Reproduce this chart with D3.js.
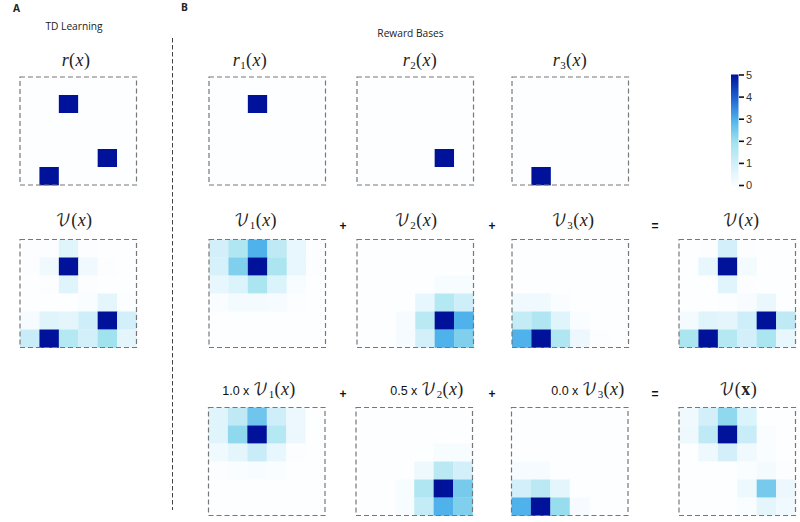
<!DOCTYPE html>
<html>
<head>
<meta charset="utf-8">
<script src="https://cdn.jsdelivr.net/npm/d3@7"></script>
<style>
  body { margin: 0; background: #fff; }
  svg { display: block; }
  .math { font-family: "Liberation Serif", serif; font-size: 18px; fill: #222; letter-spacing: 0.4px; }
  .head { font-family: "Open Sans", sans-serif; font-size: 10.2px; fill: #222; }
  .plain { font-family: "Liberation Sans", sans-serif; font-size: 12.5px; fill: #111; letter-spacing: 0; }
</style>
</head>
<body>
<div id="content"></div>
<script>
// value grids, 6 x 6 (rows top to bottom)
var rAll = [[0,0,0,0,0,0],[0,0,5,0,0,0],[0,0,0,0,0,0],[0,0,0,0,0,0],[0,0,0,0,5,0],[0,5,0,0,0,0]];
var r1 = [[0,0,0,0,0,0],[0,0,5,0,0,0],[0,0,0,0,0,0],[0,0,0,0,0,0],[0,0,0,0,0,0],[0,0,0,0,0,0]];
var r2 = [[0,0,0,0,0,0],[0,0,0,0,0,0],[0,0,0,0,0,0],[0,0,0,0,0,0],[0,0,0,0,5,0],[0,0,0,0,0,0]];
var r3 = [[0,0,0,0,0,0],[0,0,0,0,0,0],[0,0,0,0,0,0],[0,0,0,0,0,0],[0,0,0,0,0,0],[0,5,0,0,0,0]];
var vAll = [
  [0.05,0.05,0.7,0.05,0,0],
  [0.05,0.3,5,0.3,0.05,0],
  [0,0.05,0.7,0.05,0,0],
  [0,0,0,0.1,0.6,0.05],
  [0.2,0.7,0.6,1.1,5,1],
  [1.2,5,1.6,1,2,0.6]];
var v1 = [
  [1,1.7,3,1.4,0.5,0.05],
  [0.9,2.4,5,1.8,0.5,0.05],
  [0.5,0.8,1.8,0.8,0.15,0.03],
  [0.1,0.25,0.25,0.2,0.05,0],
  [0.03,0.03,0.03,0.03,0,0],
  [0.02,0.02,0.02,0.02,0,0]];
var v2 = [
  [0,0,0,0,0,0],
  [0,0,0,0,0,0],
  [0,0,0,0.03,0.15,0.15],
  [0,0,0.03,0.5,1.6,1.1],
  [0,0,0.2,1.5,5,3],
  [0,0,0.2,1,3,2.4]];
var v3 = [
  [0,0,0,0,0,0],
  [0,0,0,0,0,0],
  [0,0,0,0,0,0],
  [0.3,0.3,0.1,0.02,0,0],
  [1.3,1.7,0.7,0.1,0,0],
  [3,5,1.7,0.4,0.05,0]];
var vSum = [
  [0.03,0.05,1,0.05,0,0],
  [0.03,0.5,5,0.25,0.03,0],
  [0,0.03,0.7,0.05,0,0],
  [0,0,0.05,0.12,0.45,0.03],
  [0.25,0.7,0.6,1.1,5,1.4],
  [1.8,5,1.6,1,1.8,0.5]];
var w1 = [
  [0.7,1.4,2.6,1.1,0.4,0.03],
  [0.7,2.2,5,1.6,0.4,0.03],
  [0.3,0.6,1.2,0.5,0.05,0],
  [0.05,0.1,0.15,0.1,0.02,0],
  [0,0,0,0,0,0],
  [0,0,0,0,0,0]];
var w2 = [
  [0,0,0,0,0,0],
  [0,0,0,0,0,0],
  [0,0,0,0.02,0.15,0.15],
  [0,0,0,0.35,1.5,1],
  [0,0,0.15,1.7,5,2.5],
  [0,0,0.15,1.3,3,2.4]];
var w3 = [
  [0,0,0,0,0,0],
  [0,0,0,0,0,0],
  [0,0,0,0,0,0],
  [0.2,0.2,0.02,0,0,0],
  [1,1.5,0.6,0.03,0,0],
  [3,5,2.1,0.2,0.03,0]];
var wSum = [
  [0.3,1,2.2,0.8,0.02,0],
  [0.35,1.4,5,1.2,0.1,0],
  [0.03,0.35,1,0.3,0.08,0],
  [0,0.02,0.03,0.1,0.25,0.05],
  [0,0,0,0.35,2.5,0.4],
  [0,0,0,0.1,0.6,0.3]];
var barTicks = [0,1,2,3,4,5];
var barStops = ["#fdfeff","#d3f0fa","#a0e2ee","#4fb2ea","#1c5ed2","#00129a"];

var width = 800, height = 522;
var svg = d3.select("#content").append("svg")
  .attr("width", width).attr("height", height);

var color = d3.scaleLinear().domain(barTicks).range(barStops).clamp(true);
var idx = d3.range(6);

// one heat panel with dashed frame and its title (titles are not centred on the panels)
function panel(x0, y0, grid, titleX, titleY, prefix, name, sub, bold) {
  var xS = d3.scaleBand().domain(idx).range([x0, x0 + 116.5]);
  var yS = d3.scaleBand().domain(idx).range([y0, y0 + 108]);
  var g = svg.append("g");
  grid.forEach(function(row, i) {
    g.selectAll(null).data(row).enter().append("rect")
      .attr("x", function(d, j) { return xS(j); })
      .attr("y", yS(i))
      .attr("width", xS.bandwidth() + 0.3)
      .attr("height", yS.bandwidth() + 0.3)
      .attr("fill", function(d) { return color(d); });
  });
  g.append("rect")
    .attr("x", x0).attr("y", y0).attr("width", 116.5).attr("height", 108)
    .attr("fill", "none").attr("stroke", "#777").attr("stroke-width", 1.2)
    .attr("stroke-dasharray", "5,3");

  var t = svg.append("text").attr("text-anchor", "middle")
    .attr("x", titleX).attr("y", titleY).attr("class", "math");
  if (prefix) t.append("tspan").attr("class", "plain").text(prefix + " ");
  if (name == "r") t.append("tspan").attr("font-style", "italic").text("r");
  else t.append("tspan").attr("font-family", "DejaVu Math TeX Gyre, Noto Sans Math, DejaVu Sans").attr("font-size", 16).text("\uD835\uDCB1");
  if (sub) t.append("tspan").attr("font-size", 11).attr("dy", 3).text(sub);
  t.append("tspan").attr("dy", sub ? -3 : 0).text("(");
  t.append("tspan").attr("font-style", bold ? "normal" : "italic").attr("font-weight", bold ? "bold" : "normal").text("x");
  t.append("tspan").text(")");
}

panel(20, 77, rAll, 76, 66, "", "r", "");
panel(20, 239.5, vAll, 74, 226, "", "V", "");
panel(209, 77, r1, 250, 66, "", "r", "1");
panel(357, 77, r2, 420, 66, "", "r", "2");
panel(512, 77, r3, 570, 66, "", "r", "3");
panel(209, 239.5, v1, 255.5, 226, "", "V", "1");
panel(357, 239.5, v2, 416, 226, "", "V", "2");
panel(512, 239.5, v3, 573, 226, "", "V", "3");
panel(679, 239.5, vSum, 741, 226, "", "V", "");
panel(208.5, 407.5, w1, 259, 395, "1.0 x", "V", "1");
panel(356, 407.5, w2, 427, 395, "0.5 x", "V", "2");
panel(511.5, 407.5, w3, 588, 395, "0.0 x", "V", "3");
panel(679, 407.5, wSum, 738, 395, "", "V", "", true);

// headings
svg.append("text").attr("class", "head").attr("x", 13).attr("y", 12).attr("font-weight", "bold").attr("font-size", 9.5).text("A");
svg.append("text").attr("class", "head").attr("x", 181).attr("y", 11).attr("font-weight", "bold").attr("font-size", 9.5).text("B");
svg.append("text").attr("class", "head").attr("x", 74).attr("y", 30).attr("text-anchor", "middle").text("TD Learning");
svg.append("text").attr("class", "head").attr("x", 410.5).attr("y", 37).attr("text-anchor", "middle").text("Reward Bases");

// divider
svg.append("line").attr("x1", 172.5).attr("x2", 172.5).attr("y1", 38).attr("y2", 510)
  .attr("stroke", "#444").attr("stroke-width", 1).attr("stroke-dasharray", "4.5,2.5");

// operators between panels
var opX = [343, 492, 655];
var opSym = ["+", "+", "="];
[230, 398].forEach(function(y) {
  svg.selectAll(null).data(opSym).enter().append("text")
    .attr("x", function(d, i) { return opX[i]; })
    .attr("y", y)
    .attr("text-anchor", "middle")
    .attr("font-family", "Liberation Sans")
    .attr("font-weight", "bold")
    .attr("font-size", 12)
    .attr("fill", "#111")
    .text(function(d) { return d; });
});

// colour bar
var barY = d3.scaleLinear().domain([0, 5]).range([185, 74.5]);
var grad = svg.append("defs").append("linearGradient").attr("id", "bar")
  .attr("x1", 0).attr("x2", 0).attr("y1", 1).attr("y2", 0);
barTicks.forEach(function(v, i) {
  grad.append("stop").attr("offset", (v / 5 * 100) + "%").attr("stop-color", barStops[i]);
});
svg.append("rect").attr("x", 731).attr("y", barY(5)).attr("width", 7.5)
  .attr("height", barY(0) - barY(5) + 2).attr("fill", "url(#bar)");
var barAxis = svg.append("g").attr("transform", "translate(739,0)")
  .call(d3.axisRight(barY).tickValues(barTicks).tickFormat(d3.format("d")).tickSize(5).tickPadding(2));
barAxis.select(".domain").remove();
barAxis.selectAll(".tick line").attr("stroke", "#111").attr("stroke-width", 1.6);
barAxis.selectAll("text").attr("font-family", "Liberation Sans").attr("font-size", 11).attr("fill", "#333");
</script>
</body>
</html>
